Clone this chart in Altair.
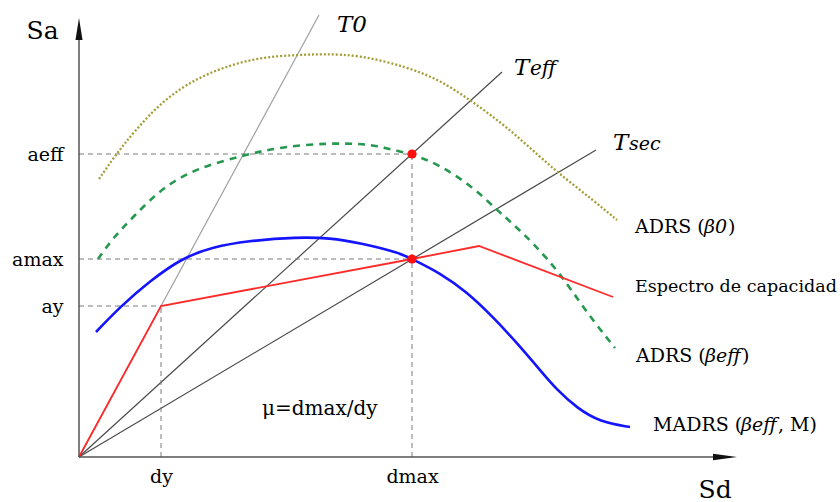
import altair as alt
import pandas as pd

# ---------------- data (Sd, Sa in arbitrary units) ----------------
dy, ay = 0.82, 1.51
dmax, amax = 3.33, 1.98
aeff = 3.03

cap_sd = [0.0, dy, dmax, 4.00, 5.34]
cap_sa = [0.0, ay, amax, 2.11, 1.60]

adrs0_sd = [0.20, 0.38, 0.54, 0.84, 1.18, 1.51, 1.84, 2.18, 2.44, 2.81, 3.28, 3.61, 3.94, 4.28, 4.61, 4.88, 5.14, 5.38]
adrs0_sa = [2.78, 3.04, 3.24, 3.57, 3.79, 3.92, 4.00, 4.02, 4.03, 4.02, 3.90, 3.77, 3.55, 3.30, 3.00, 2.77, 2.57, 2.37]

adrse_sd = [0.19, 0.34, 0.54, 0.84, 1.18, 1.66, 2.01, 2.49, 2.81, 2.94, 3.33, 3.61, 3.94, 4.18, 4.34, 4.54, 4.81, 5.08, 5.36]
adrse_sa = [1.98, 2.19, 2.40, 2.70, 2.89, 3.02, 3.10, 3.14, 3.13, 3.12, 3.03, 2.92, 2.70, 2.47, 2.33, 2.14, 1.84, 1.44, 1.09]

madrs_sd = [0.17, 0.42, 0.71, 1.03, 1.34, 1.68, 2.18, 2.51, 2.81, 3.21, 3.33, 3.61, 3.88, 4.14, 4.38, 4.61, 4.78, 4.98, 5.21, 5.51]
madrs_sa = [1.25, 1.51, 1.76, 1.99, 2.10, 2.16, 2.20, 2.19, 2.14, 2.04, 1.98, 1.84, 1.65, 1.40, 1.14, 0.87, 0.67, 0.49, 0.35, 0.30]

period_names = ["T0", "Teff", "Tsec"]
period_end_sd = [2.40, 4.23, 5.17]
period_end_sa = [4.42, 3.85, 3.07]

axis_len_sd = 6.40
axis_len_sa = 4.18

# ---------------- layout (pixels -> data helpers) ----------------
W, H = 761, 457
LEFT, BOTTOM = 79, 45
XD = [0, 7.61]
YD = [0, 4.57]


def px2x(px):
    return (px - LEFT) / 100.0


def py2y(py):
    return (457 - py) / 100.0


xs = alt.Scale(domain=XD, nice=False, zero=False)
ys = alt.Scale(domain=YD, nice=False, zero=False)

FONT = "DejaVu Serif"

# period lines
per_df = pd.DataFrame({"name": period_names, "x0": 0.0, "y0": 0.0,
                       "x1": period_end_sd, "y1": period_end_sa,
                       "col": ["#a0a0a0", "#4a4a4a", "#4a4a4a"]})
periods = alt.Chart(per_df).mark_rule(strokeWidth=1.2).encode(
    x=alt.X("x0:Q", scale=xs,
            axis=alt.Axis(values=[dy, dmax], labelExpr="datum.value < 1 ? 'dy' : 'dmax'",
                          ticks=False, tickSize=0, domain=False, grid=False,
                          labelFont=FONT, labelFontSize=19, labelColor="black",
                          labelPadding=25, labelBaseline="alphabetic",
                          title="Sd", titleFont=FONT, titleFontSize=25, titleFontWeight="normal",
                          titleColor="black", titleX=619, titleY=40, titleAlign="left",
                          titleBaseline="alphabetic", titleAnchor="start")),
    y=alt.Y("y0:Q", scale=ys,
            axis=alt.Axis(values=[ay, amax, aeff],
                          labelExpr="datum.value < 1.7 ? 'ay' : (datum.value < 2.5 ? 'amax' : 'aeff')",
                          ticks=False, tickSize=0, domain=False, grid=False,
                          labelFont=FONT, labelFontSize=19, labelColor="black",
                          labelPadding=16, labelAlign="right", labelBaseline="middle",
                          title="Sa", titleFont=FONT, titleFontSize=25, titleFontWeight="normal",
                          titleColor="black", titleAngle=0, titleX=-53, titleY=38,
                          titleAlign="left", titleBaseline="alphabetic")),
    x2="x1:Q", y2="y1:Q",
    color=alt.Color("col:N", scale=None),
)

# dashed guides
guide_df = pd.DataFrame({
    "x0": [0, 0, 0, dy, dmax],
    "x1": [dmax, dmax, dy, dy, dmax],
    "y0": [aeff, amax, ay, 0, 0],
    "y1": [aeff, amax, ay, ay, aeff],
})
guides = alt.Chart(guide_df).mark_rule(color="#7a7a7a", strokeWidth=1, strokeDash=[5, 4]).encode(
    x=alt.X("x0:Q", scale=xs), x2="x1:Q", y=alt.Y("y0:Q", scale=ys), y2="y1:Q")


def curve(sd, sa, **kw):
    df = pd.DataFrame({"sd": sd, "sa": sa})
    return alt.Chart(df).mark_line(interpolate="basis", **kw).encode(
        x=alt.X("sd:Q", scale=xs), y=alt.Y("sa:Q", scale=ys), order="sd:Q")


c_adrs0 = curve(adrs0_sd, adrs0_sa, color="#a39d35", strokeWidth=2.3, strokeDash=[2, 2])
c_adrse = curve(adrse_sd, adrse_sa, color="#27984f", strokeWidth=2.6, strokeDash=[7, 6])
c_madrs = curve(madrs_sd, madrs_sa, color="#1414ff", strokeWidth=2.6)
cap_df = pd.DataFrame({"sd": cap_sd, "sa": cap_sa, "i": range(len(cap_sd))})
c_cap = alt.Chart(cap_df).mark_line(color="#ff2a2a", strokeWidth=1.8).encode(
    x=alt.X("sd:Q", scale=xs), y=alt.Y("sa:Q", scale=ys), order="i:Q")

dots_df = pd.DataFrame({"sd": [dmax, dmax], "sa": [aeff, amax]})
dots = alt.Chart(dots_df).mark_point(filled=True, color="#ff1010", opacity=1, size=85).encode(
    x=alt.X("sd:Q", scale=xs), y=alt.Y("sa:Q", scale=ys))

# axes with arrows
ax_df = pd.DataFrame({"x0": [0.0, 0.0], "y0": [0.0, 0.0], "x1": [axis_len_sd, 0.0], "y1": [0.0, axis_len_sa]})
axes = alt.Chart(ax_df).mark_rule(color="#555555", strokeWidth=1.5).encode(
    x=alt.X("x0:Q", scale=xs), x2="x1:Q", y=alt.Y("y0:Q", scale=ys), y2="y1:Q")
arr_up = alt.Chart(pd.DataFrame({"sd": [0.0], "sa": [py2y(29)]})).mark_point(
    shape="M-0.32,1L0,-1L0.32,1Z", filled=True, color="#111111", opacity=1, size=484, strokeWidth=0).encode(
    x=alt.X("sd:Q", scale=xs), y=alt.Y("sa:Q", scale=ys))
arr_right = alt.Chart(pd.DataFrame({"sd": [px2x(725)], "sa": [0.0]})).mark_point(
    shape="M-1,-0.28L1,0L-1,0.28Z", filled=True, color="#111111", opacity=1, size=576, strokeWidth=0).encode(
    x=alt.X("sd:Q", scale=xs), y=alt.Y("sa:Q", scale=ys))

# text annotations: (text, left px, baseline px, size, italic)
labels = [
    ("T0", 337, 32, 23, True),
    ("T", 514, 75, 23, True), ("eff", 530, 75, 20, True),
    ("T", 613, 150, 23, True), ("sec", 629, 150, 19, True),
    ("ADRS (", 635, 233, 19, False), ("β0", 704, 233, 19, True), (")", 728, 233, 19, False),
    ("Espectro de capacidad", 635, 292, 17.5, False),
    ("ADRS (", 636, 362, 19, False), ("βeff", 705, 362, 19, True), (")", 742, 362, 19, False),
    ("MADRS (", 653, 431, 19, False), ("βeff", 741, 431, 19, True), (", M)", 778, 431, 19, False),
    ("μ=dmax/dy", 262, 415, 20, False),
]
lab_df = pd.DataFrame({
    "t": [l[0] for l in labels],
    "sd": [px2x(l[1]) for l in labels],
    "sa": [py2y(l[2]) for l in labels],
    "fs": [l[3] for l in labels],
    "it": [l[4] for l in labels],
})


def text_layer(italic):
    return alt.Chart(lab_df[lab_df["it"] == italic]).mark_text(
        align="left", baseline="alphabetic", font=FONT, color="black",
        fontStyle="italic" if italic else "normal").encode(
        x=alt.X("sd:Q", scale=xs), y=alt.Y("sa:Q", scale=ys),
        text="t:N", size=alt.Size("fs:Q", scale=None))


chart = alt.layer(
    periods, guides, c_adrs0, c_adrse, c_madrs, c_cap, dots, axes, arr_up, arr_right,
    text_layer(False), text_layer(True)
).properties(
    width=W, height=H,
    padding={"left": LEFT, "top": 0, "right": 0, "bottom": BOTTOM},
    autosize=alt.AutoSizeParams(type="none"),
    background="white",
).configure_view(stroke=None)

chart.save("out.html", embed_options={"renderer": "svg", "actions": False})
